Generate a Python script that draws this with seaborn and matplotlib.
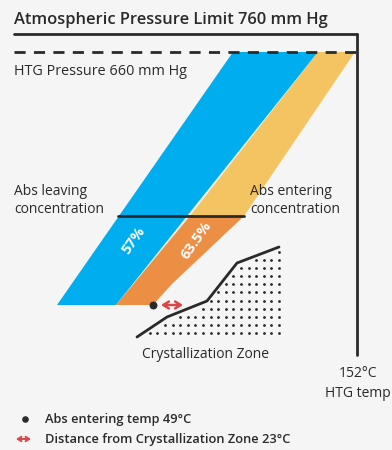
import matplotlib.pyplot as plt
import numpy as np
import pandas as pd
import seaborn as sns
from matplotlib.patches import Polygon, FancyArrowPatch

sns.set_theme(style="white")
plt.rcParams["font.family"] = ["Open Sans", "DejaVu Sans"]

BG = "#F4F5F4"
INK = "#2A2A2A"
BLUE = "#00AEEF"
YELLOW = "#F5C462"
ORANGE = "#EC8F45"
RED = "#D9474B"

# diagram geometry (pixel units, y grows downward)
atm_y = 34
htg_y = 52
temp_x = 357
conc_y = 216
base_y = 305

blue_band = [(57, 305), (116, 305), (318, 52), (233, 52)]
yellow_band = [(190, 216), (244, 216), (355, 52), (318, 52)]
orange_band = [(116, 305), (153, 305), (172, 284), (244, 216), (190, 216)]

crys_x = [137, 167, 207, 237, 279]
crys_y = [337, 317, 301, 263, 247]

entering_temp = (153, 305)
arrow_span = (161, 183)


def double_arrow(ax, x0, x1, y, lw, hl, hw):
    ax.add_patch(FancyArrowPatch((x0, y), (x1, y),
                                 arrowstyle=f"<->,head_length={hl},head_width={hw}",
                                 color=RED, lw=lw, shrinkA=0, shrinkB=0, zorder=5))


fig = plt.figure(figsize=(3.92, 4.5), dpi=100, facecolor=BG)
ax = fig.add_axes([0, 0, 1, 1])
ax.set_facecolor(BG)

for pts, col in [(blue_band, BLUE), (yellow_band, YELLOW), (orange_band, ORANGE)]:
    ax.add_patch(Polygon(pts, closed=True, facecolor=col, edgecolor="none", zorder=2))

# pressure limits
ax.plot([14, temp_x], [atm_y, atm_y], color=INK, lw=2, zorder=3)
ax.plot([temp_x, temp_x], [atm_y, 355], color=INK, lw=2, zorder=3)
ax.plot([14, temp_x], [htg_y, htg_y], color=INK, lw=2, ls=(0, (4, 3)), zorder=3)
ax.plot([118, 244], [conc_y, conc_y], color=INK, lw=2, zorder=3)

# crystallization zone dots
gx, gy = np.meshgrid(np.arange(279, 135, -7.6), np.arange(333, 245, -8.1))
gx, gy = gx.ravel(), gy.ravel()
mask = gy > np.interp(gx, crys_x, crys_y) + 4
dots = pd.DataFrame({"x": gx[mask], "y": gy[mask]})
sns.scatterplot(data=dots, x="x", y="y", s=4, color=INK, linewidth=0, ax=ax, zorder=3)

curve = pd.DataFrame({"x": crys_x, "y": crys_y})
sns.lineplot(data=curve, x="x", y="y", color=INK, lw=2, sort=False, ax=ax, zorder=4)

ax.scatter([entering_temp[0]], [entering_temp[1]], s=22, color=INK, zorder=5)
double_arrow(ax, arrow_span[0], arrow_span[1], base_y, 1.8, 4, 2.5)

# labels
ax.text(14, 24, "Atmospheric Pressure Limit 760 mm Hg", fontsize=11.9,
        fontweight="semibold", color=INK, va="baseline")
ax.text(14, 75, "HTG Pressure 660 mm Hg", fontsize=10.4, color=INK, va="baseline")
ax.text(14, 213, "Abs leaving\nconcentration", fontsize=10, color=INK,
        va="baseline", linespacing=1.3)
ax.text(250, 213, "Abs entering\nconcentration", fontsize=10, color=INK,
        va="baseline", linespacing=1.3)
ax.text(134, 240, "57%", fontsize=10.5, fontweight="bold", color="white",
        rotation=55, ha="center", va="center", rotation_mode="anchor", zorder=6)
ax.text(196, 240, "63.5%", fontsize=10.5, fontweight="bold", color="white",
        rotation=55, ha="center", va="center", rotation_mode="anchor", zorder=6)
ax.text(206, 358, "Crystallization Zone", fontsize=10, color=INK,
        ha="center", va="baseline")
ax.text(358, 377, "152°C", fontsize=10, color=INK, ha="center", va="baseline")
ax.text(358, 397, "HTG temp", fontsize=10, color=INK, ha="center", va="baseline")

ax.scatter([25], [419], s=14, color=INK, zorder=5)
ax.text(45, 423, "Abs entering temp 49°C", fontsize=9.3, fontweight="semibold",
        color=INK, va="baseline")
double_arrow(ax, 16, 31, 439, 1.4, 2.6, 1.6)
ax.text(45, 443, "Distance from Crystallization Zone 23°C", fontsize=9.3,
        fontweight="semibold", color=INK, va="baseline")

ax.set_xlim(0, 392)
ax.set_ylim(450, 0)
ax.axis("off")

fig.savefig("out.png", dpi=100, facecolor=BG)
